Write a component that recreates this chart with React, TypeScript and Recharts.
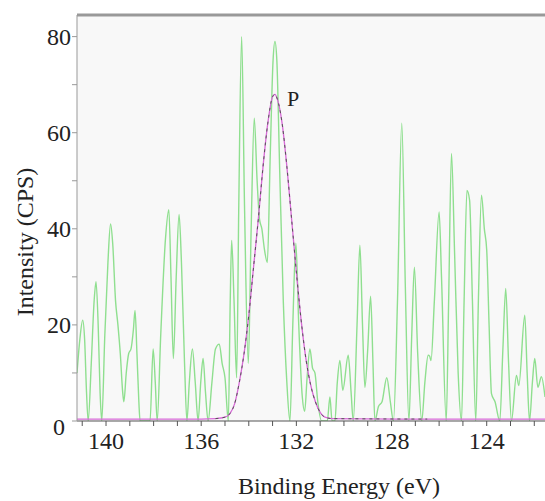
import { LineChart, Line, XAxis, YAxis, CartesianGrid, ReferenceLine, ReferenceDot, Label } from 'recharts';

// measured spectrum (green)
const rawEnergy = [
  141.22, 141.1, 140.98, 140.9, 140.82, 140.75, 140.62, 140.5, 140.42, 140.33, 140.25, 140.18,
  140.05, 139.92, 139.81, 139.72, 139.6, 139.5, 139.4, 139.3, 139.25, 139.15, 139.05, 138.95,
  138.85, 138.78, 138.7, 138.62, 138.57, 138.15, 138.02, 137.93, 137.85, 137.7, 137.5, 137.36,
  137.27, 137.17, 137.05, 136.93, 136.83, 136.7, 136.6, 136.5, 136.37, 136.25, 136.13, 136.02,
  135.92, 135.82, 135.71, 135.55, 135.4, 135.24, 135.12, 135.0, 134.86, 134.78, 134.72, 134.62,
  134.51, 134.42, 134.3, 134.18, 134.02, 133.9, 133.77, 133.65, 133.55, 133.45, 133.35, 133.22,
  133.1, 132.98, 132.9, 132.82, 132.7, 132.55, 132.4, 132.27, 132.15, 132.02, 131.9, 131.75,
  131.65, 131.55, 131.43, 131.32, 131.22, 131.1, 130.94, 130.7, 130.59, 130.5, 130.38, 130.28,
  130.17, 130.05, 129.82, 129.7, 129.61, 129.45, 129.33, 129.22, 129.12, 129.0, 128.88, 128.78,
  128.7, 128.55, 128.4, 128.2, 128.05, 127.92, 127.75, 127.57, 127.42, 127.27, 127.15, 127.04,
  126.9, 126.73, 126.6, 126.46, 126.4, 126.34, 126.2, 126.0, 125.9, 125.7, 125.6, 125.48,
  125.35, 125.2, 125.06, 124.95, 124.83, 124.72, 124.6, 124.46, 124.35, 124.22, 124.1, 124.0,
  123.9, 123.8, 123.65, 123.45, 123.32, 123.2, 123.08, 122.96, 122.75, 122.65, 122.4, 122.3,
  122.2, 122.08, 121.98, 121.85, 121.7, 121.55,
];
const rawCps = [
  10, 17, 21, 17, 6, 0, 12, 25, 29, 20, 6, 0,
  18, 33, 41, 37, 25, 20, 14, 6, 4, 10, 14, 15,
  19, 23, 14, 4, 0, 0, 15, 8, 0, 18, 38, 44,
  30, 13, 30, 43, 33, 12, 0, 8, 15, 8, 0, 8,
  13, 6, 0, 8, 15, 16, 12, 9, 0, 25, 37.6, 25,
  9, 45, 80, 45, 12, 40, 63, 50, 42, 40, 36, 33,
  55, 75, 79, 75, 52, 25, 8, 0, 20, 37, 20, 5,
  2, 9, 15, 11, 10, 4, 0, 0, 5, 0, 0, 8,
  12.6, 6.4, 13.7, 6, 0, 20, 36.6, 20, 7, 15, 26, 12,
  0, 3, 4, 9, 4, 0, 25, 62, 28, 0, 18, 32,
  14, 0, 8, 13.7, 13.5, 12.6, 25, 43.5, 30, 0, 25, 55.7,
  35, 10, 0, 25, 48, 46, 25, 0, 25, 47, 40, 35.6,
  20, 5.7, 4, 0, 15, 27.6, 12, 0, 9.5, 7.4, 22, 10,
  0, 8, 13, 7, 9.2, 5,
];

// fitted P component (magenta)
const fitEnergy = [
  141.22, 136.0, 135.4, 135.0, 134.8, 134.6, 134.4, 134.2, 134.0, 133.8, 133.6, 133.4,
  133.2, 133.0, 132.9, 132.8, 132.6, 132.4, 132.2, 132.0, 131.8, 131.6, 131.4, 131.2,
  131.0, 130.8, 130.5, 126.5, 121.55,
];
const fitCps = [
  0.4, 0.4, 0.5, 0.8, 1.5, 3.5, 8, 14, 22, 32, 42, 53,
  62, 67.5, 68, 67, 62, 53, 42, 31, 21, 13, 7.5, 4,
  1.8, 0.8, 0.5, 0.4, 0.4,
];

const xTicks = [122, 123, 124, 125, 126, 127, 128, 129, 130, 131, 132, 133, 134, 135, 136, 137, 138, 139, 140, 141];
const yTicks = [0, 10, 20, 30, 40, 50, 60, 70, 80];

const rawData = rawEnergy.map((e, i) => ({ e, cps: rawCps[i] }));
const fitData = fitEnergy.map((e, i) => ({ e, fit: fitCps[i] }));
const fitPeak = fitData.filter((d) => d.e <= 135.5 && d.e >= 126.5);

const serif = "'Liberation Serif', 'Times New Roman', serif";
const textStyle = { fontFamily: serif };

const YTick = (props: any) => {
  const { x, y, payload } = props;
  const v = payload.value;
  if (v % 20 !== 0) return null;
  const zero = v === 0;
  return (
    <text
      x={zero ? x - 6 : x}
      y={zero ? y + 6 : y}
      textAnchor="end"
      dominantBaseline="central"
      style={textStyle}
      fontSize={24}
      fill="#222"
    >
      {v}
    </text>
  );
};

const XTick = (props: any) => {
  const { x, y, payload } = props;
  const v = payload.value;
  if (v % 4 !== 0) return null;
  return (
    <text x={x} y={y} dy="0.72em" textAnchor="middle" style={textStyle} fontSize={24} fill="#222">
      {v}
    </text>
  );
};

export default function App() {
  return (
    <div style={{ position: 'absolute', left: 0, top: 0, width: 545, height: 501, background: '#fff' }}>
      <LineChart width={545} height={501} margin={{ top: 15, right: 0, bottom: 0, left: 0 }}>
        <CartesianGrid horizontal={false} vertical={false} fill="#f8f8f8" />
        <XAxis
          type="number"
          dataKey="e"
          domain={[121.55, 141.22]}
          reversed
          allowDataOverflow
          ticks={xTicks}
          interval={0}
          height={80}
          tickSize={5}
          tickMargin={6}
          stroke="#555"
          tick={<XTick />}
        >
          <Label
            content={(p: any) => {
              const vb = p.viewBox;
              return (
                <text x={vb.x + vb.width / 2 + 28} y={494} textAnchor="middle" style={textStyle} fontSize={24} fill="#222">
                  Binding Energy (eV)
                </text>
              );
            }}
          />
        </XAxis>
        <YAxis
          type="number"
          domain={[0, 84.5]}
          allowDataOverflow
          ticks={yTicks}
          interval={0}
          width={77}
          tickSize={5}
          tickMargin={1}
          stroke="#999"
          tick={<YTick />}
        >
          <Label
            content={() => (
              <text
                x={25}
                y={242}
                transform="rotate(-90 25 242)"
                textAnchor="middle"
                dominantBaseline="central"
                style={textStyle}
                fontSize={24}
                fill="#222"
              >
                Intensity (CPS)
              </text>
            )}
          />
        </YAxis>
        <ReferenceLine y={84.5} stroke="#999" strokeWidth={3} ifOverflow="extendDomain" />
        <Line
          data={rawData}
          dataKey="cps"
          type="monotone"
          stroke="#8fdf8f"
          strokeWidth={1.4}
          dot={false}
          isAnimationActive={false}
        />
        <Line
          data={fitData}
          dataKey="fit"
          type="monotone"
          stroke="#d86ad8"
          strokeWidth={1.3}
          dot={false}
          isAnimationActive={false}
        />
        <Line
          data={fitPeak}
          dataKey="fit"
          type="monotone"
          stroke="#555"
          strokeWidth={1}
          strokeDasharray="3 4"
          dot={false}
          isAnimationActive={false}
        />
        <ReferenceDot
          x={132.14}
          y={67.2}
          r={0}
          label={{ value: 'P', position: 'center', style: textStyle, fontSize: 22, fill: '#222' }}
        />
      </LineChart>
    </div>
  );
}
